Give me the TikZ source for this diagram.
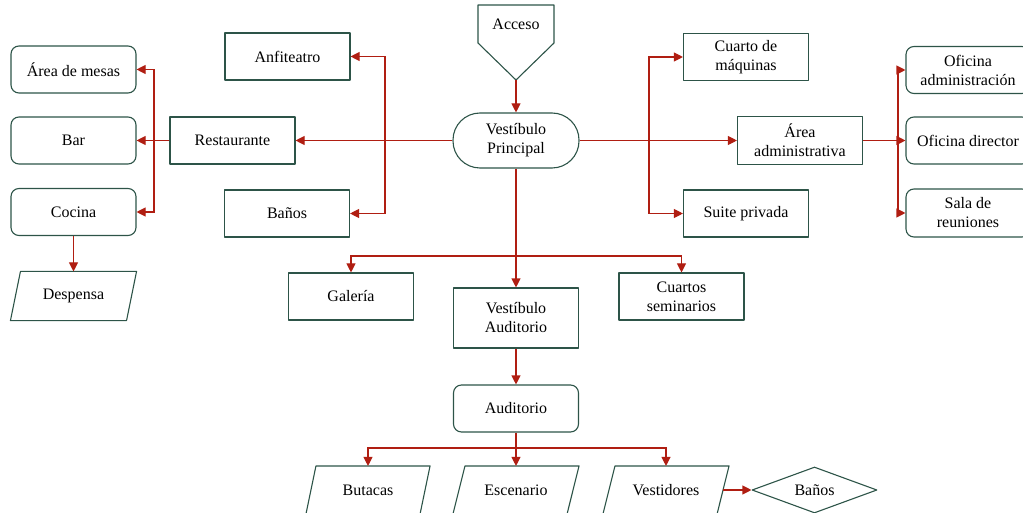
\documentclass[tikz,border=0pt]{standalone}
\usepackage{fontspec}
\setmainfont{Liberation Serif}
\usetikzlibrary{arrows.meta,shapes.geometric}
\definecolor{bordc}{RGB}{45,84,72}
\definecolor{arrc}{RGB}{176,30,18}
\tikzset{
  bord/.style={draw=bordc,line width=1.1pt,line join=round},
  box/.style={bord,minimum width=125pt,minimum height=47pt,inner sep=1pt,align=center,font=\fontsize{16}{19}\selectfont},
  rbox/.style={box,rounded corners=8pt},
  pbox/.style={box,draw=none},
  arr/.style={draw=arrc,line width=1.1pt,-{Triangle[length=9pt,width=9pt]}},
}
\newcommand{\drawpara}[2]{\draw[bord] ([xshift=-#2]#1.south west) -- ([xshift=#2]#1.north west) -- ([xshift=#2]#1.north east) -- ([xshift=-#2]#1.south east) -- cycle;}
\begin{document}
\begin{tikzpicture}[x=1pt,y=-1pt]
\useasboundingbox (0,0) rectangle (1023,513);
% Acceso pentagon
\draw[bord] (478,5) -- (554,5) -- (554,43) -- (516,80) -- (478,43) -- cycle;
\node[font=\fontsize{16}{19}\selectfont] (acceso) at (516,24) {Acceso};
\coordinate (accTip) at (516,80);
% central
\node[box,rounded corners=27pt,minimum width=126pt,minimum height=55pt] (vp) at (516,140.5) {Vestíbulo\\Principal};
% left
\node[box] (anf) at (287.5,56.5) {Anfiteatro};
\node[box] (rest) at (232.5,140.5) {Restaurante};
\node[box] (banosL) at (287,213.5) {Baños};
\node[rbox] (mesas) at (73.5,69.5) {Área de mesas};
\node[rbox] (bar) at (73.5,140.5) {Bar};
\node[rbox] (cocina) at (73.5,212) {Cocina};
\node[pbox,minimum width=115pt,minimum height=48pt] (despensa) at (73.5,296) {Despensa};
\drawpara{despensa}{5pt}
% right
\node[box] (cuarto) at (746,57) {Cuarto de\\máquinas};
\node[box] (suite) at (746,213.5) {Suite privada};
\node[box,minimum height=48pt] (admin) at (800,140.5) {Área\\administrativa};
\node[rbox,minimum width=124pt] (ofadm) at (968,70) {Oficina\\administración};
\node[rbox,minimum width=124pt] (ofdir) at (968,140.5) {Oficina director};
\node[rbox,minimum width=124pt,minimum height=48pt] (sala) at (968,213) {Sala de\\reuniones};
% middle
\node[box] (galeria) at (351,296.5) {Galería};
\node[box,minimum height=60pt] (vaud) at (516,318) {Vestíbulo\\Auditorio};
\node[box] (cuartos) at (681.5,296.5) {Cuartos\\seminarios};
\node[rbox] (aud) at (516,408.5) {Auditorio};
% bottom
\node[pbox,minimum width=113pt,minimum height=47pt] (butacas) at (368,490) {Butacas};
\drawpara{butacas}{5pt}
\node[pbox,minimum width=113pt,minimum height=47pt] (escenario) at (516,490) {Escenario};
\drawpara{escenario}{6pt}
\node[pbox,minimum width=113pt,minimum height=47pt] (vestidores) at (666,490) {Vestidores};
\drawpara{vestidores}{6pt}
\node[bord,diamond,aspect=2.7,minimum width=125pt,minimum height=46pt,inner sep=0pt,font=\fontsize{16}{19}\selectfont] (banosR) at (814.5,490) {Baños};
% connectors
\draw[arr] (accTip) -- (vp.north);
\draw[arr] (vp.west) -- (rest.east);
\coordinate (jL) at (385,140.5);
\draw[arr] (jL) |- (anf.east);
\draw[arr] (jL) |- (banosL.east);
\draw[arr] (rest.west) -- (bar.east);
\coordinate (jR) at (154,140.5);
\draw[arr] (jR) |- (mesas.east);
\draw[arr] (jR) |- (cocina.east);
\draw[arr] (cocina.south) -- (despensa.north);
\draw[arr] (vp.east) -- (admin.west);
\coordinate (jC) at (649,140.5);
\draw[arr] (jC) |- (cuarto.west);
\draw[arr] (jC) |- (suite.west);
\draw[arr] (admin.east) -- (ofdir.west);
\coordinate (jA) at (898,140.5);
\draw[arr] (jA) |- (ofadm.west);
\draw[arr] (jA) |- (sala.west);
\draw[arr] (vp.south) -- (vaud.north);
\coordinate (jM) at (516,256);
\draw[arr] (jM) -| (galeria.north);
\draw[arr] (jM) -| (cuartos.north);
\draw[arr] (vaud.south) -- (aud.north);
\draw[arr] (aud.south) -- (escenario.north);
\coordinate (jB) at (516,448);
\draw[arr] (jB) -| (butacas.north);
\draw[arr] (jB) -| (vestidores.north);
\draw[arr] (vestidores.east) -- (banosR.west);
\end{tikzpicture}
\end{document}
